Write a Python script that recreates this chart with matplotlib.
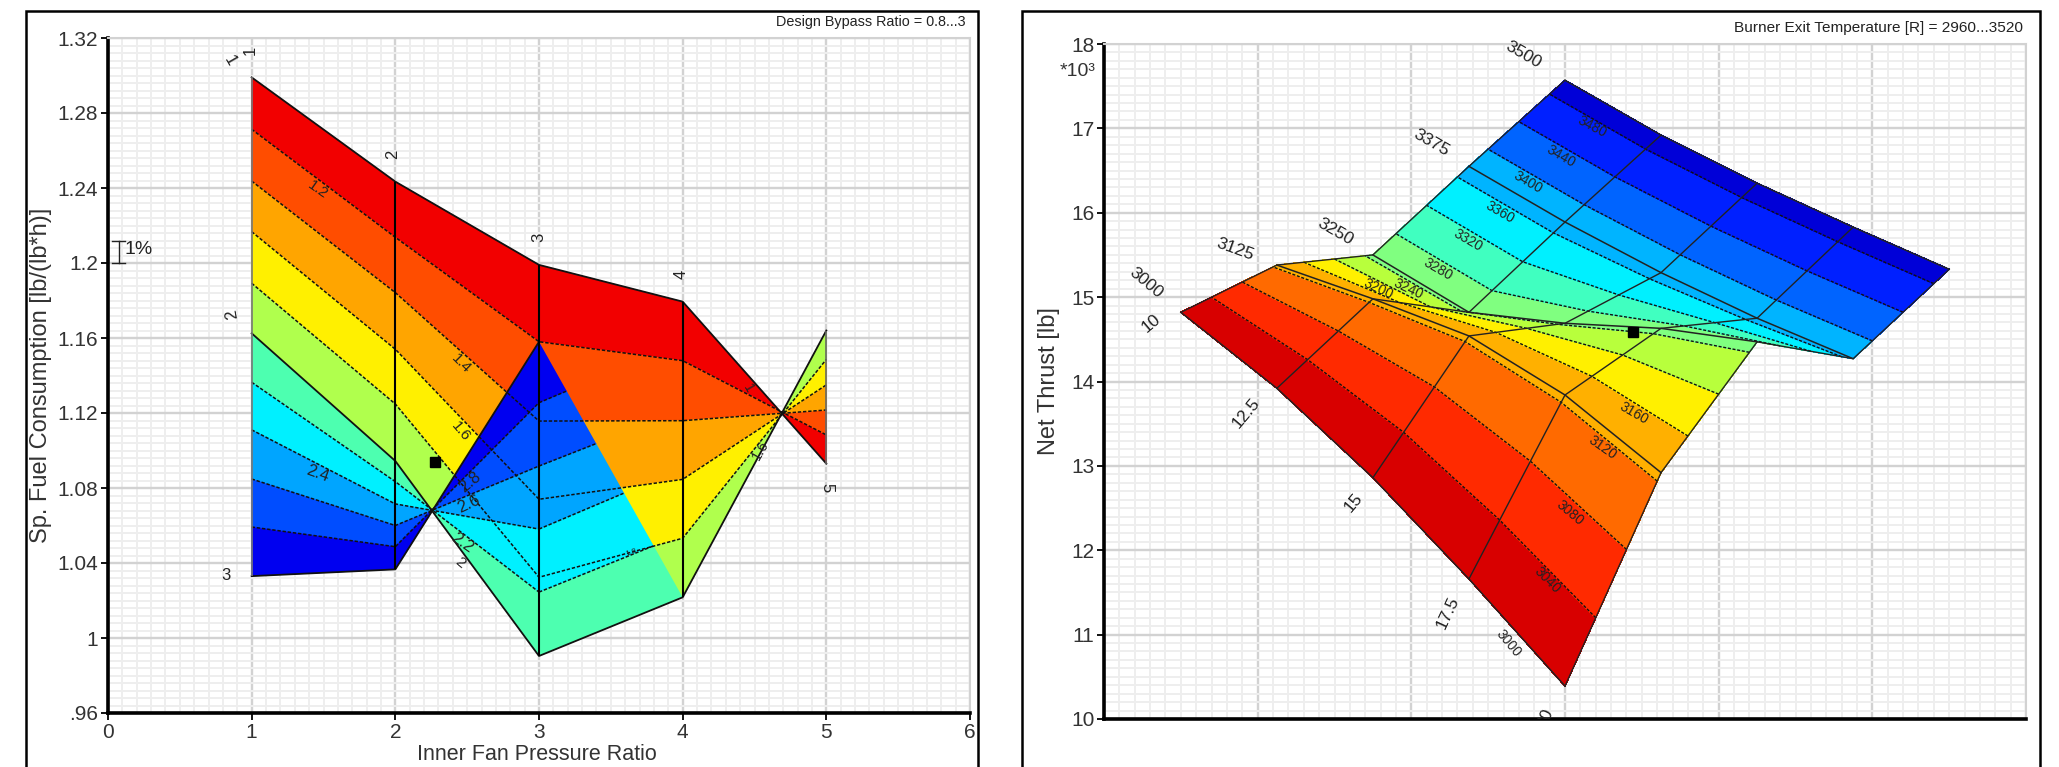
import numpy as np
import matplotlib
matplotlib.use('Agg')
import matplotlib.pyplot as plt
from matplotlib.colors import ListedColormap, BoundaryNorm
from matplotlib.patches import Polygon, Rectangle
from matplotlib.ticker import MultipleLocator

plt.rcParams['font.family'] = ['Liberation Sans', 'DejaVu Sans']

W, H = 2059, 767

# left chart: Sp. fuel consumption per bypass ratio, read at inner fan pressure ratio 1..5
fpr = [1, 2, 3, 4, 5]
bpr_low = {
    1.0: [1.299, 1.2434, 1.199, 1.1794, 1.093],
    1.2: [1.2713, 1.2137, 1.158, 1.1479, 1.1083],
    1.4: [1.2437, 1.1842, 1.1157, 1.1159, 1.1216],
    1.6: [1.2167, 1.154, 1.074, 1.0846, 1.135],
    1.8: [1.1892, 1.1248, 1.0324, 1.0532, 1.1486],
    2.0: [1.1625, 1.0944, 0.9904, 1.0217, 1.164],
}
bpr_high = {
    2.0: [1.1625, 1.0944, 0.9904, 1.0217],
    2.2: [1.1364, 1.0834, 1.0245, 1.0554],
    2.4: [1.111, 1.0715, 1.0581, 1.0905],
    2.6: [1.0848, 1.06, 1.0917, 1.1218],
    2.8: [1.0592, 1.0487, 1.1255, 1.1578],
    3.0: [1.033, 1.0366, 1.158, 1.19],
}
low_colors = ['#f20000', '#ff4d00', '#ffa500', '#fff000', '#b0ff4d']
high_colors = ['#4dffb0', '#00f0ff', '#00a5ff', '#004dff', '#0000f0']
yticks_left = [0.96, 1.0, 1.04, 1.08, 1.12, 1.16, 1.2, 1.24, 1.28, 1.32]
ylabels_left = ['.96', '1', '1.04', '1.08', '1.12', '1.16', '1.2', '1.24', '1.28', '1.32']
point_left = (2.276, 1.094)

# right chart: net thrust carpet, one row per first parameter (10..20), one column per temperature
temps = [3000, 3125, 3250, 3375, 3500]
carpet_x = [
    [0.5, 1.125, 1.75, 2.375, 3.0],
    [1.125, 1.75, 2.375, 3.0, 3.625],
    [1.75, 2.375, 3.0, 3.625, 4.25],
    [2.375, 3.0, 3.625, 4.25, 4.875],
    [3.0, 3.625, 4.25, 4.875, 5.5],
]
carpet_y = [
    [14.82, 15.38, 15.50, 16.55, 17.57],
    [13.92, 14.98, 14.82, 15.89, 16.92],
    [12.86, 14.54, 14.69, 15.29, 16.35],
    [11.66, 13.84, 14.63, 14.75, 15.83],
    [10.39, 12.92, 14.47, 14.27, 15.33],
]
levels = [2960, 3000, 3040, 3080, 3120, 3160, 3200, 3240, 3280, 3320, 3360, 3400, 3440, 3480, 3520]
right_colors = ['#d80000', '#d80000', '#ff2a00', '#ff6a00', '#ffb000', '#fff000', '#b8ff3c', '#80ff80',
                '#40ffc0', '#00f0ff', '#00b4ff', '#0064ff', '#0020ff', '#0000d8']
point_right = (3.44, 14.59)


def make_axes(x0, x1, y0, y1):
    ax = fig.add_axes([x0 / W, 1 - y1 / H, (x1 - x0) / W, (y1 - y0) / H])
    ax.set_axisbelow(True)
    ax.grid(True, which='minor', color='#eeeeee', lw=1.4)
    ax.grid(True, which='major', color='#d2d2d2', lw=1.7)
    ax.tick_params(which='minor', length=0)
    ax.tick_params(which='major', length=5, width=1.3, labelsize=15, labelcolor='#333333', pad=2)
    for s in ['top', 'right']:
        ax.spines[s].set_color('#d2d2d2')
        ax.spines[s].set_linewidth(1.5)
    for s in ['left', 'bottom']:
        ax.spines[s].set_linewidth(2.6)
    return ax


def lab(x, y, s, rot=0, size=9, color='#222222', clip=None):
    t = fig.text(x / W, 1 - y / H, s, rotation=rot, fontsize=size, color=color,
                 ha='center', va='center', rotation_mode='anchor')
    if clip is not None:
        t.set_clip_box(clip.bbox)
        t.set_clip_on(True)
    return t


def frame(x0, x1):
    fig.add_artist(Rectangle((x0 / W, -0.1), (x1 - x0) / W, 1.1 - 10.7 / H, transform=fig.transFigure,
                             fill=False, ec='black', lw=1.8))


fig = plt.figure(figsize=(W / 100, H / 100), dpi=100, facecolor='white')
frame(25.7, 978)
frame(1022, 2040)

# ---- left chart
ax = make_axes(108, 970, 38, 713)
ax.set_xlim(0, 6)
ax.set_ylim(0.96, 1.32)
ax.xaxis.set_major_locator(MultipleLocator(1))
ax.xaxis.set_minor_locator(MultipleLocator(0.1))
ax.yaxis.set_minor_locator(MultipleLocator(0.004))
ax.set_yticks(yticks_left)
ax.set_yticklabels(ylabels_left)

low_keys = list(bpr_low)
high_keys = list(bpr_high)
for k in range(5):
    a = bpr_low[low_keys[k]]
    b = bpr_low[low_keys[k + 1]]
    for i in range(4):
        ax.fill([fpr[i], fpr[i + 1], fpr[i + 1], fpr[i]], [a[i], a[i + 1], b[i + 1], b[i]],
                color=low_colors[k], lw=0.4, zorder=2)

# the last panel of the high ratios only shows below its diagonal
tri = Polygon([(fpr[2], bpr_high[3.0][2]), (fpr[2], bpr_high[2.0][2]), (fpr[3], bpr_high[2.0][3])],
              transform=ax.transData, fill=False, ec='none')
ax.add_patch(tri)
for k in range(5):
    a = bpr_high[high_keys[k]]
    b = bpr_high[high_keys[k + 1]]
    for i in range(3):
        p = ax.fill([fpr[i], fpr[i + 1], fpr[i + 1], fpr[i]], [a[i], a[i + 1], b[i + 1], b[i]],
                    color=high_colors[k], lw=0.4, zorder=3)[0]
        if i == 2:
            p.set_clip_path(tri)

dash = (0, (2.2, 1.2))
for key in low_keys:
    solid = key in (1.0, 2.0)
    ax.plot(fpr, bpr_low[key], color='#111111', lw=1.3 if solid else 1.1, ls='-' if solid else dash, zorder=5)
for key in high_keys[1:]:
    solid = key == 3.0
    ax.plot(fpr[:3], bpr_high[key][:3], color='#111111', lw=1.3 if solid else 1.1, ls='-' if solid else dash, zorder=5)
    if not solid:
        ln = ax.plot(fpr[2:4], bpr_high[key][2:], color='#111111', lw=1.1, ls=dash, zorder=5)[0]
        ln.set_clip_path(tri)

ax.vlines(fpr[0], bpr_high[3.0][0], bpr_low[1.0][0], color='#777777', lw=1.2, zorder=5)
ax.vlines(fpr[1], bpr_high[3.0][1], bpr_low[1.0][1], color='black', lw=1.5, zorder=5)
ax.vlines(fpr[2], bpr_low[2.0][2], bpr_low[1.0][2], color='black', lw=1.5, zorder=5)
ax.vlines(fpr[3], bpr_low[2.0][3], bpr_low[1.0][3], color='black', lw=1.5, zorder=5)
ax.vlines(fpr[4], bpr_low[1.0][4], bpr_low[2.0][4], color='#666666', lw=1.2, zorder=5)
ax.plot(*point_left, 's', color='black', ms=6.5, zorder=7)

# 1% bar
ax.plot([0.074, 0.074], [1.2, 1.212], color='#222222', lw=1, zorder=6)
ax.plot([0.03, 0.118], [1.2, 1.2], color='#222222', lw=1, zorder=6)
ax.plot([0.03, 0.118], [1.212, 1.212], color='#222222', lw=1, zorder=6)
lab(139, 249, '1%', size=14)

lab(41, 375, 'Sp. Fuel Consumption [lb/(lb*h)]', rot=90, size=17, color='#333333')
lab(537, 754, 'Inner Fan Pressure Ratio', size=15.5, color='#333333')
fig.text(966 / W, 1 - 22 / H, 'Design Bypass Ratio = 0.8...3', fontsize=10.4, color='#222222',
         ha='right', va='center')

for x, y, s, r, sz in [
    (230, 61, '1', -60, 12), (250, 50, '1', 90, 12), (393, 154, '2', 90, 12), (538.6, 237, '3', 90, 12),
    (681, 274, '4', 90, 12), (232, 314, '2', 100, 12), (226, 575, '3', 0, 12), (826.7, 488, '5', -90, 12),
    (318, 190, '1.2', -35, 11), (461, 364, '1.4', -45, 11), (461, 432, '1.6', -50, 11),
    (318, 474, '2.4', -20, 12), (470, 482, '2.8', 40, 12), (469, 504, '2.6', 25, 12),
    (462, 543, '2.2', -35, 12), (460, 563, '2', -40, 11), (748, 388, '1', -60, 10),
    (760, 450, '1.6', 60, 10.5), (631, 553, '1.8', 20, 6),
]:
    lab(x, y, s, r, sz)

# ---- right chart
ax2 = make_axes(1104, 2026, 44, 719)
ax2.set_xlim(0, 6)
ax2.set_ylim(10, 18)
ax2.xaxis.set_major_locator(MultipleLocator(1))
ax2.xaxis.set_minor_locator(MultipleLocator(0.1))
ax2.yaxis.set_major_locator(MultipleLocator(1))
ax2.yaxis.set_minor_locator(MultipleLocator(0.1))
ax2.tick_params(axis='x', which='major', length=0, labelbottom=False)

X = np.array(carpet_x)
Y = np.array(carpet_y)
T = np.tile(temps, (5, 1))
cmap = ListedColormap(right_colors)
norm = BoundaryNorm(levels, cmap.N)
cs = ax2.contourf(X, Y, T, levels=levels, cmap=cmap, norm=norm, zorder=2)
cs.set_edgecolor('face')
cs.set_linewidth(0.4)
ax2.contour(X, Y, T, levels=levels[2:-1], colors='#111111', linewidths=1.0, linestyles=[dash], zorder=4)
for i in range(5):
    ax2.plot(X[i], Y[i], color='#222222', lw=1.0, zorder=5)
    ax2.plot(X[:, i], Y[:, i], color='#222222', lw=1.1, zorder=5)
ax2.plot(*point_right, 's', color='black', ms=6.5, zorder=7)

lab(1049, 381, 'Net Thrust [lb]', rot=90, size=17, color='#333333')
lab(1078, 72, '*10³', size=14, color='#333333')
fig.text(2023 / W, 1 - 28 / H, 'Burner Exit Temperature [R] = 2960...3520', fontsize=11.1, color='#222222',
         ha='right', va='center')

for x, y, s, r, sz in [
    (1146, 283, '3000', -40, 12.5), (1151, 323, '10', 40, 12.5), (1235, 249, '3125', -20, 12.5),
    (1335, 232, '3250', -30, 12.5), (1431, 143, '3375', -30, 12.5), (1523, 55, '3500', -30, 12.5),
    (1246, 413, '12.5', 50, 12.5), (1353, 503, '15', 50, 12.5), (1448, 613, '17.5', 65, 12.5),
    (1508, 643, '3000', -50, 10), (1547, 580, '3040', -45, 10), (1570, 513, '3080', -40, 10),
    (1602, 448, '3120', -35, 10), (1634, 413, '3160', -30, 10), (1378, 289, '3200', -25, 10),
    (1408, 289, '3240', -25, 10), (1438, 269, '3280', -30, 10), (1468, 240, '3320', -30, 10),
    (1500, 212, '3360', -30, 10), (1528, 182, '3400', -30, 10), (1561, 156, '3440', -30, 10),
    (1592, 127, '3480', -28, 10),
]:
    lab(x, y, s, r, sz)
lab(1545, 718, '20', 65, 12.5, clip=ax2)

fig.savefig('out.png', dpi=100)
